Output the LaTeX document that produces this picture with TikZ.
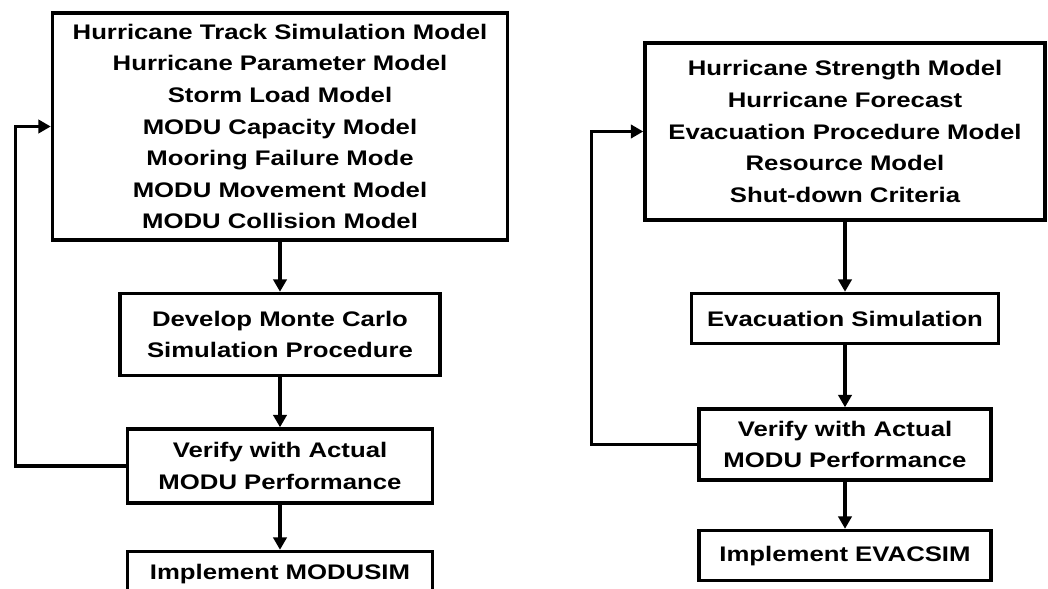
\documentclass[tikz,border=0pt]{standalone}
\usepackage{fontspec}
\setmainfont{Liberation Sans}[FakeStretch=1.22]
\usetikzlibrary{positioning, arrows.meta}
\tikzstyle{box} = [rectangle, draw, line width=2pt, align=center, inner sep=2pt, font={\fontsize{12pt}{18pt}\selectfont\bfseries}]
\tikzstyle{arrow} = [line width=1.8pt,->,>={Triangle[length=7pt,width=7.5pt]}]

\begin{document}
\begin{tikzpicture}
    \useasboundingbox (0,0) rectangle (20.96,-11.78);

    % MODUSIM
    \node (mmodels) [box, minimum width=9.1cm, minimum height=4.54cm] at (5.6,-2.53)
        {Hurricane Track Simulation Model\\Hurricane Parameter Model\\Storm Load Model\\MODU Capacity Model\\Mooring Failure Mode\\MODU Movement Model\\MODU Collision Model};
    \node (mmonte)  [box, minimum width=6.4cm, minimum height=1.64cm, below=1cm of mmodels] {Develop Monte Carlo\\Simulation Procedure};
    \node (mverify) [box, minimum width=6.1cm, minimum height=1.48cm, below=1cm of mmonte] {Verify with Actual\\MODU Performance};
    \node (mimpl)   [box, minimum width=6.1cm, minimum height=0.9cm, below=0.9cm of mverify] {Implement MODUSIM};

    \draw [arrow] (mmodels) -- (mmonte);
    \draw [arrow] (mmonte)  -- (mverify);
    \draw [arrow] (mverify) -- (mimpl);
    \draw [arrow] (mverify.west) -- ++(-2.2,0) |- (mmodels.west);

    % EVACSIM
    \node (emodels) [box, minimum width=8.0cm, minimum height=3.54cm] at (16.9,-2.63)
        {Hurricane Strength Model\\Hurricane Forecast\\Evacuation Procedure Model\\Resource Model\\Shut-down Criteria};
    \node (esim)    [box, minimum width=6.14cm, minimum height=1.0cm, below=1.4cm of emodels] {Evacuation Simulation};
    \node (everify) [box, minimum width=5.84cm, minimum height=1.42cm, below=1.24cm of esim] {Verify with Actual\\MODU Performance};
    \node (eimpl)   [box, minimum width=5.84cm, minimum height=1.0cm, below=0.94cm of everify] {Implement EVACSIM};

    \draw [arrow] (emodels) -- (esim);
    \draw [arrow] (esim)    -- (everify);
    \draw [arrow] (everify) -- (eimpl);
    \draw [arrow] (everify.west) -- ++(-2.12,0) |- (emodels.west);
\end{tikzpicture}
\end{document}
